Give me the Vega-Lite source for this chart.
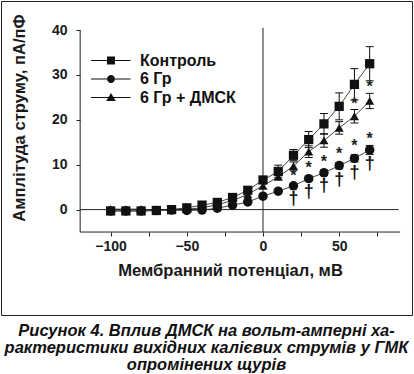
{
  "$schema": "https://vega.github.io/schema/vega-lite/v6.json",
  "width": 411,
  "height": 314,
  "padding": {"left": 1, "top": 1, "right": 2, "bottom": 0},
  "background": "white",
  "config": {
    "view": {"stroke": "#222", "strokeWidth": 1},
    "font": "Liberation Sans",
    "axis": {
      "grid": false, "domain": false, "tickColor": "#222", "tickSize": 4, "tickWidth": 1,
      "labelFont": "Liberation Sans", "labelFontSize": 14, "labelFontWeight": "bold", "labelColor": "#1a1a1a",
      "titleFont": "Liberation Sans", "titleFontSize": 16.6, "titleFontWeight": "bold", "titleColor": "#1a1a1a",
      "labelOverlap": false, "labelFlush": false, "labelBound": false
    }
  },
  "title": {
    "text": ["Рисунок 4. Вплив ДМСК на вольт-амперні ха-", "рактеристики вихідних калієвих струмів у ГМК", "опромінених щурів"],
    "orient": "bottom", "anchor": "middle", "font": "Liberation Sans", "fontSize": 16.5,
    "fontStyle": "italic", "fontWeight": "bold", "lineHeight": 17.2, "offset": 8, "color": "#111"
  },
  "datasets": {
    "iv": [
      {"series": "Контроль", "mV": -100, "I": -0.3},
      {"series": "Контроль", "mV": -90, "I": -0.3},
      {"series": "Контроль", "mV": -80, "I": -0.3},
      {"series": "Контроль", "mV": -70, "I": -0.2},
      {"series": "Контроль", "mV": -60, "I": 0.0},
      {"series": "Контроль", "mV": -50, "I": 0.4},
      {"series": "Контроль", "mV": -40, "I": 1.0},
      {"series": "Контроль", "mV": -30, "I": 1.6},
      {"series": "Контроль", "mV": -20, "I": 2.7},
      {"series": "Контроль", "mV": -10, "I": 4.3},
      {"series": "Контроль", "mV": 0, "I": 6.6, "lo": 5.9, "hi": 7.3},
      {"series": "Контроль", "mV": 10, "I": 8.5, "lo": 7.2, "hi": 9.9},
      {"series": "Контроль", "mV": 20, "I": 12.1, "lo": 10.9, "hi": 13.4},
      {"series": "Контроль", "mV": 30, "I": 15.6, "lo": 13.8, "hi": 17.4},
      {"series": "Контроль", "mV": 40, "I": 19.1, "lo": 16.8, "hi": 21.4},
      {"series": "Контроль", "mV": 50, "I": 23.0, "lo": 20.0, "hi": 26.0},
      {"series": "Контроль", "mV": 60, "I": 27.9, "lo": 24.4, "hi": 31.4},
      {"series": "Контроль", "mV": 70, "I": 32.5, "lo": 28.7, "hi": 36.3},
      {"series": "6 Гр", "mV": -100, "I": -0.3},
      {"series": "6 Гр", "mV": -90, "I": -0.3},
      {"series": "6 Гр", "mV": -80, "I": -0.3},
      {"series": "6 Гр", "mV": -70, "I": -0.2},
      {"series": "6 Гр", "mV": -60, "I": -0.1},
      {"series": "6 Гр", "mV": -50, "I": -0.2},
      {"series": "6 Гр", "mV": -40, "I": -0.1},
      {"series": "6 Гр", "mV": -30, "I": 0.3},
      {"series": "6 Гр", "mV": -20, "I": 1.0},
      {"series": "6 Гр", "mV": -10, "I": 1.7},
      {"series": "6 Гр", "mV": 0, "I": 3.0},
      {"series": "6 Гр", "mV": 10, "I": 4.1},
      {"series": "6 Гр", "mV": 20, "I": 5.3},
      {"series": "6 Гр", "mV": 30, "I": 6.9, "lo": 6.4, "hi": 7.4},
      {"series": "6 Гр", "mV": 40, "I": 8.2, "lo": 7.6, "hi": 8.8},
      {"series": "6 Гр", "mV": 50, "I": 9.8, "lo": 9.1, "hi": 10.5},
      {"series": "6 Гр", "mV": 60, "I": 11.4, "lo": 10.6, "hi": 12.2},
      {"series": "6 Гр", "mV": 70, "I": 13.3, "lo": 12.3, "hi": 14.3},
      {"series": "6 Гр + ДМСК", "mV": -100, "I": 0.1},
      {"series": "6 Гр + ДМСК", "mV": -90, "I": 0.1},
      {"series": "6 Гр + ДМСК", "mV": -80, "I": 0.1},
      {"series": "6 Гр + ДМСК", "mV": -70, "I": -0.1},
      {"series": "6 Гр + ДМСК", "mV": -60, "I": 0.0},
      {"series": "6 Гр + ДМСК", "mV": -50, "I": 0.1},
      {"series": "6 Гр + ДМСК", "mV": -40, "I": 0.4},
      {"series": "6 Гр + ДМСК", "mV": -30, "I": 1.1},
      {"series": "6 Гр + ДМСК", "mV": -20, "I": 2.0},
      {"series": "6 Гр + ДМСК", "mV": -10, "I": 3.4},
      {"series": "6 Гр + ДМСК", "mV": 0, "I": 5.3},
      {"series": "6 Гр + ДМСК", "mV": 10, "I": 7.3, "lo": 6.7, "hi": 7.9},
      {"series": "6 Гр + ДМСК", "mV": 20, "I": 9.7, "lo": 8.8, "hi": 10.6},
      {"series": "6 Гр + ДМСК", "mV": 30, "I": 12.9, "lo": 11.6, "hi": 14.2},
      {"series": "6 Гр + ДМСК", "mV": 40, "I": 15.4, "lo": 13.9, "hi": 16.9},
      {"series": "6 Гр + ДМСК", "mV": 50, "I": 18.2, "lo": 16.8, "hi": 19.6},
      {"series": "6 Гр + ДМСК", "mV": 60, "I": 20.8, "lo": 19.3, "hi": 22.3},
      {"series": "6 Гр + ДМСК", "mV": 70, "I": 24.2, "lo": 22.5, "hi": 25.9}
    ],
    "stars": [
      {"mV": 20, "I": 8.4, "sign": "*"},
      {"mV": 30, "I": 10.2, "sign": "*"},
      {"mV": 40, "I": 11.6, "sign": "*"},
      {"mV": 50, "I": 13.3, "sign": "*"},
      {"mV": 60, "I": 15.1, "sign": "*"},
      {"mV": 70, "I": 16.7, "sign": "*"},
      {"mV": 60, "I": 24.4, "sign": "*"},
      {"mV": 70, "I": 28.1, "sign": "*"}
    ],
    "daggers": [
      {"mV": 20, "I": 2.4, "sign": "†"},
      {"mV": 30, "I": 4.0, "sign": "†"},
      {"mV": 40, "I": 5.2, "sign": "†"},
      {"mV": 50, "I": 6.6, "sign": "†"},
      {"mV": 60, "I": 8.1, "sign": "†"},
      {"mV": 70, "I": 10.2, "sign": "†"}
    ]
  },
  "resolve": {"scale": {"shape": "independent"}, "legend": {"shape": "independent"}},
  "layer": [
    {
      "data": {"name": "iv"},
      "mark": {"type": "line", "color": "#444", "strokeWidth": 1},
      "encoding": {
        "x": {
          "field": "mV", "type": "quantitative",
          "scale": {"domain": [-171.94, 97.78], "nice": false, "zero": false},
          "axis": {
            "values": [-100, -75, -50, -25, 0, 25, 50, 75],
            "labelExpr": "datum.value % 50 === 0 ? datum.label : ''",
            "offset": -83, "labelPadding": 3,
            "title": "Мембранний потенціал, мВ",
            "titleX": 229, "titleY": 30.2, "titleBaseline": "top"
          }
        },
        "y": {
          "field": "I", "type": "quantitative",
          "scale": {"domain": [-23.48, 46.47], "nice": false, "zero": false},
          "axis": {
            "values": [0, 5, 10, 15, 20, 25, 30, 35, 40],
            "labelExpr": "datum.value % 10 === 0 ? datum.label : ''",
            "offset": -79, "labelPadding": 9,
            "title": "Амплітуда струму, пА/пФ",
            "titleX": -55.5, "titleY": 116.5, "titleBaseline": "alphabetic"
          }
        },
        "detail": {"field": "series"}
      }
    },
    {
      "data": {"values": [{}]},
      "mark": {"type": "rule", "color": "#222", "strokeWidth": 1},
      "encoding": {"x": {"datum": -120, "type": "quantitative"}, "y": {"datum": -5, "type": "quantitative"}, "y2": {"datum": 40}}
    },
    {
      "data": {"values": [{}]},
      "mark": {"type": "rule", "color": "#222", "strokeWidth": 1},
      "encoding": {"x": {"datum": -120, "type": "quantitative"}, "x2": {"datum": 90}, "y": {"datum": -5, "type": "quantitative"}}
    },
    {
      "data": {"values": [{}]},
      "mark": {"type": "rule", "color": "#222", "strokeWidth": 1},
      "encoding": {"x": {"datum": -120, "type": "quantitative"}, "x2": {"datum": 89}, "y": {"datum": 0, "type": "quantitative"}}
    },
    {
      "data": {"values": [{}]},
      "mark": {"type": "rule", "color": "#222", "strokeWidth": 1},
      "encoding": {"x": {"datum": 0, "type": "quantitative"}, "y": {"datum": -5, "type": "quantitative"}, "y2": {"datum": 40.5}}
    },
    {
      "data": {"name": "iv"},
      "transform": [{"filter": "isValid(datum.lo)"}],
      "mark": {"type": "rule", "color": "#111", "strokeWidth": 1},
      "encoding": {"x": {"field": "mV", "type": "quantitative"}, "y": {"field": "lo", "type": "quantitative"}, "y2": {"field": "hi"}}
    },
    {
      "data": {"name": "iv"},
      "transform": [{"filter": "isValid(datum.lo)"}],
      "mark": {"type": "tick", "orient": "horizontal", "size": 8, "thickness": 1, "color": "#111", "opacity": 1},
      "encoding": {"x": {"field": "mV", "type": "quantitative"}, "y": {"field": "lo", "type": "quantitative"}}
    },
    {
      "data": {"name": "iv"},
      "transform": [{"filter": "isValid(datum.hi)"}],
      "mark": {"type": "tick", "orient": "horizontal", "size": 8, "thickness": 1, "color": "#111", "opacity": 1},
      "encoding": {"x": {"field": "mV", "type": "quantitative"}, "y": {"field": "hi", "type": "quantitative"}}
    },
    {
      "data": {"name": "iv"},
      "mark": {"type": "point", "filled": true, "opacity": 1, "color": "#111", "strokeWidth": 0},
      "encoding": {
        "x": {"field": "mV", "type": "quantitative"},
        "y": {"field": "I", "type": "quantitative"},
        "shape": {
          "field": "series", "type": "nominal",
          "scale": {"domain": ["Контроль", "6 Гр", "6 Гр + ДМСК"], "range": ["square", "circle", "triangle-up"]},
          "legend": null
        },
        "size": {
          "field": "series", "type": "nominal",
          "scale": {"domain": ["6 Гр", "Контроль", "6 Гр + ДМСК"], "range": [90, 81, 110]},
          "legend": null
        }
      }
    },
    {
      "data": {"name": "iv"},
      "transform": [{"filter": "false"}],
      "mark": {"type": "point", "filled": true, "opacity": 1, "color": "#111", "size": 64},
      "encoding": {
        "x": {"field": "mV", "type": "quantitative"},
        "y": {"field": "I", "type": "quantitative"},
        "shape": {
          "field": "series", "type": "nominal",
          "scale": {
            "domain": ["Контроль", "6 Гр", "6 Гр + ДМСК"],
            "range": [
              "M-5,-0.14H4.9V0.14H-5ZM-1,-1H1V1H-1Z",
              "M-5,-0.14H4.9V0.14H-5ZM1,0A1,1,0,1,1,-1,0A1,1,0,1,1,1,0Z",
              "M-5,-0.14H4.9V0.14H-5ZM0,-1.15L1.2,0.9L-1.2,0.9Z"
            ]
          },
          "legend": {
            "orient": "none", "legendX": 102, "legendY": 51.5, "title": null, "padding": 0,
            "labelFont": "Liberation Sans", "labelFontSize": 16, "labelFontWeight": "bold", "labelColor": "#111",
            "labelOffset": 21, "rowPadding": 2.5, "symbolSize": 64,
            "symbolFillColor": "#111", "symbolOpacity": 1
          }
        }
      }
    },
    {
      "data": {"name": "stars"},
      "mark": {"type": "text", "font": "Liberation Sans", "fontSize": 16, "fontWeight": "bold", "color": "#222", "baseline": "alphabetic", "dy": 9},
      "encoding": {"x": {"field": "mV", "type": "quantitative"}, "y": {"field": "I", "type": "quantitative"}, "text": {"field": "sign"}}
    },
    {
      "data": {"name": "daggers"},
      "mark": {"type": "text", "font": "Liberation Sans", "fontSize": 18, "fontWeight": "bold", "color": "#111", "baseline": "alphabetic", "dy": 5},
      "encoding": {"x": {"field": "mV", "type": "quantitative"}, "y": {"field": "I", "type": "quantitative"}, "text": {"field": "sign"}}
    }
  ]
}
